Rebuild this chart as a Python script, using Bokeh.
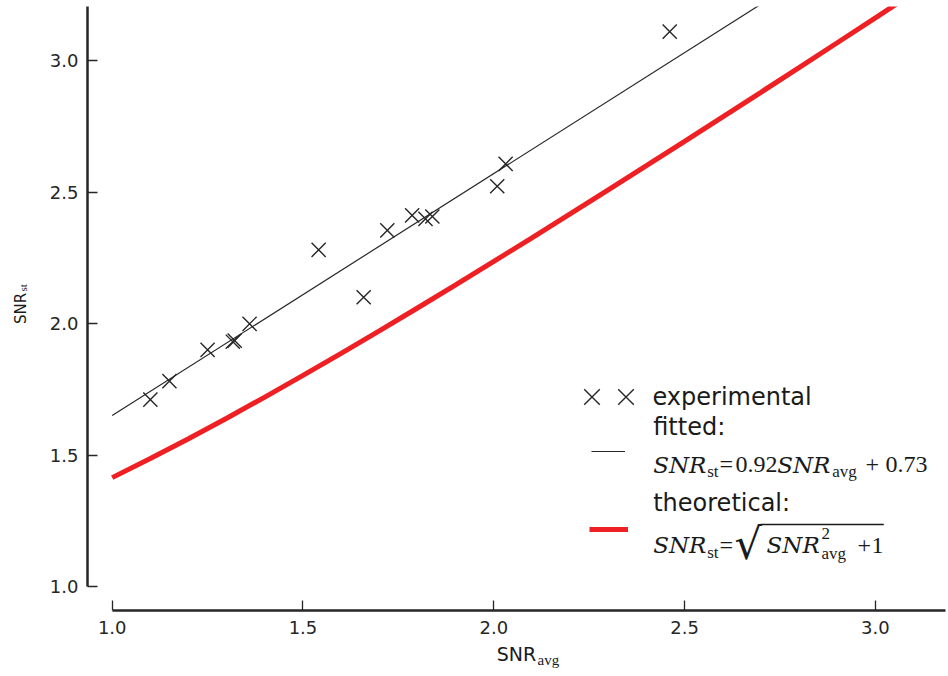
from bokeh.plotting import figure
from bokeh.models import (Range1d, FixedTicker, NumeralTickFormatter, Label,
                          Legend, LegendItem, BoxAnnotation, Title)
from bokeh.embed import file_html
from bokeh.resources import INLINE

# ---------------- data ----------------
exp_snr_avg = [1.100, 1.150, 1.250, 1.316, 1.321, 1.360, 1.541, 1.659, 1.721,
               1.786, 1.821, 1.839, 2.009, 2.031, 2.461]
exp_snr_st = [1.711, 1.781, 1.900, 1.931, 1.935, 1.999, 2.280, 2.100, 2.354,
              2.411, 2.398, 2.407, 2.522, 2.607, 3.110]

# fitted: SNR_st = 0.92 SNR_avg + 0.73 (end points)
fit_snr_avg = [1.0, 3.2]
fit_snr_st = [1.650, 3.674]

# theoretical: SNR_st = sqrt(SNR_avg^2 + 1)
theo_snr_avg = [1.0, 1.1, 1.2, 1.3, 1.4, 1.5, 1.6, 1.7, 1.8, 1.9, 2.0, 2.1,
                2.2, 2.3, 2.4, 2.5, 2.6, 2.7, 2.8, 2.9, 3.0, 3.1, 3.2]
theo_snr_st = [1.4142, 1.4866, 1.5620, 1.6401, 1.7205, 1.8028, 1.8868, 1.9723,
               2.0591, 2.1471, 2.2361, 2.3259, 2.4166, 2.5080, 2.6000, 2.6926,
               2.7857, 2.8792, 2.9732, 3.0676, 3.1623, 3.2573, 3.3541]

x_ticks = [1.0, 1.5, 2.0, 2.5, 3.0]
y_ticks = [1.0, 1.5, 2.0, 2.5, 3.0]

INK = "#262626"
TXT = "#1a1a1a"
RED = "#ee2024"
SANS = "DejaVu Sans"
SERIF = "Liberation Serif"
SERIF_IT = "DejaVu Serif"

X0, X1 = 0.9353, 3.1837
Y0, Y1 = 0.9091, 3.2053

p = figure(width=948, height=676, output_backend="svg", toolbar_location=None,
           x_range=Range1d(X0, X1), y_range=Range1d(Y0, Y1),
           min_border_left=87, min_border_right=3, min_border_top=6,
           min_border_bottom=66, background_fill_color="white",
           border_fill_color="white")
p.title.visible = False
p.grid.visible = False
p.outline_line_color = None

p.xaxis.bounds = (1.0, X1)
p.yaxis.bounds = (1.0, Y1)
p.xaxis.ticker = FixedTicker(ticks=x_ticks)
p.yaxis.ticker = FixedTicker(ticks=y_ticks)
for ax in (p.xaxis, p.yaxis):
    ax.formatter = NumeralTickFormatter(format="0.0")
    ax.axis_line_color = INK
    ax.axis_line_width = 2.5
    ax.major_tick_in = 10
    ax.major_tick_out = 0
    ax.major_tick_line_width = 1.3
    ax.major_tick_line_color = INK
    ax.minor_tick_line_color = None
    ax.major_label_text_font = SANS
    ax.major_label_text_font_size = "18px"
    ax.major_label_text_color = INK
    ax.axis_label = "SNR"
    ax.axis_label_text_font = SANS
    ax.axis_label_text_font_style = "normal"
    ax.axis_label_text_color = TXT
p.xaxis.major_label_standoff = 10
p.yaxis.major_label_standoff = 9
p.xaxis.axis_label_text_font_size = "19px"
p.xaxis.axis_label_standoff = 6
p.yaxis.axis_label_text_font_size = "15px"
p.yaxis.axis_label_standoff = 17

# subscripts of the axis labels
p.add_layout(Title(text="avg", align="left", offset=450, vertical_align="top",
                   standoff=-31, text_font=SERIF, text_font_size="15px",
                   text_font_style="normal", text_color=TXT), "below")
p.add_layout(Title(text="st", align="left", offset=319, vertical_align="bottom",
                   standoff=-41, text_font=SERIF, text_font_size="11px",
                   text_font_style="normal", text_color=TXT), "left")

# ---------------- glyphs ----------------
r_theo = p.line(theo_snr_avg, theo_snr_st, line_color=RED, line_width=5)
r_fit = p.line(fit_snr_avg, fit_snr_st, line_color=INK, line_width=1.2)
r_exp = p.scatter(exp_snr_avg, exp_snr_st, marker="x", size=20,
                  line_color=INK, line_width=1.4)


# ---------------- legend (samples through Bokeh legends) ----------------
def make_legend(item, loc, gw, gh, standoff=10, font_size="24px"):
    lg = Legend(items=[item], location=loc, padding=0, margin=0, spacing=0,
                glyph_width=gw, glyph_height=gh, label_height=20, label_width=0,
                label_standoff=standoff, border_line_alpha=0,
                background_fill_alpha=0, label_text_font=SANS,
                label_text_font_size=font_size, label_text_color=TXT)
    p.add_layout(lg)
    return lg


make_legend(LegendItem(label=" ", renderers=[r_exp]), (476.5, 186), 55, 55, standoff=0)
make_legend(LegendItem(label="experimental", renderers=[r_exp]), (510.5, 186), 55, 55, standoff=0)
make_legend(LegendItem(label=" ", renderers=[r_fit]), (504, 149), 34, 20)
make_legend(LegendItem(label=" ", renderers=[r_theo]), (502, 71), 39, 20)


def txt(x, y, s, font=SANS, size=24, style="normal", angle=0):
    # y is the wanted baseline; labels sit about 0.3 em lower than asked
    p.add_layout(Label(x=x, y=y + 0.3 * size, x_units="screen", y_units="screen",
                       text=s, text_font=font, text_font_size=f"{size}px",
                       text_font_style=style, text_color=TXT,
                       text_baseline="alphabetic", text_align="left",
                       angle=angle, angle_units="deg"))


txt(565.7, 176.7, "fitted:")
txt(565.7, 100, "theoretical:")

# fitted formula
txt(565.7, 139, "SNR", SERIF_IT, 23, "italic")
txt(619.7, 134, "st", SERIF, 17)
txt(632, 139, "=", SERIF, 24)
txt(648, 139, "0.92", SERIF, 24)
txt(689.7, 139, "SNR", SERIF_IT, 23, "italic")
txt(744.7, 134, "avg", SERIF, 17)
txt(778, 139, "+", SERIF, 24)
txt(798, 139, "0.73", SERIF, 24)

# theoretical formula
txt(565.7, 58.3, "SNR", SERIF_IT, 23, "italic")
txt(619.7, 53.3, "st", SERIF, 17)
txt(632, 58.3, "=", SERIF, 24)
txt(647, 53.2, "\u221a", "DejaVu Serif", 43)
p.add_layout(BoxAnnotation(left=673, right=796.3, bottom=85.2, top=86.8,
                           left_units="screen", right_units="screen",
                           bottom_units="screen", top_units="screen",
                           fill_color=TXT, fill_alpha=1, line_alpha=0))
txt(679, 58.3, "SNR", SERIF_IT, 23, "italic")
txt(734, 72, "2", SERIF, 17)
txt(734, 52, "avg", SERIF, 17)
txt(770, 58.3, "+", SERIF, 24)
txt(784, 58.3, "1", SERIF, 24)

open("out.html", "w").write(file_html(p, INLINE))
